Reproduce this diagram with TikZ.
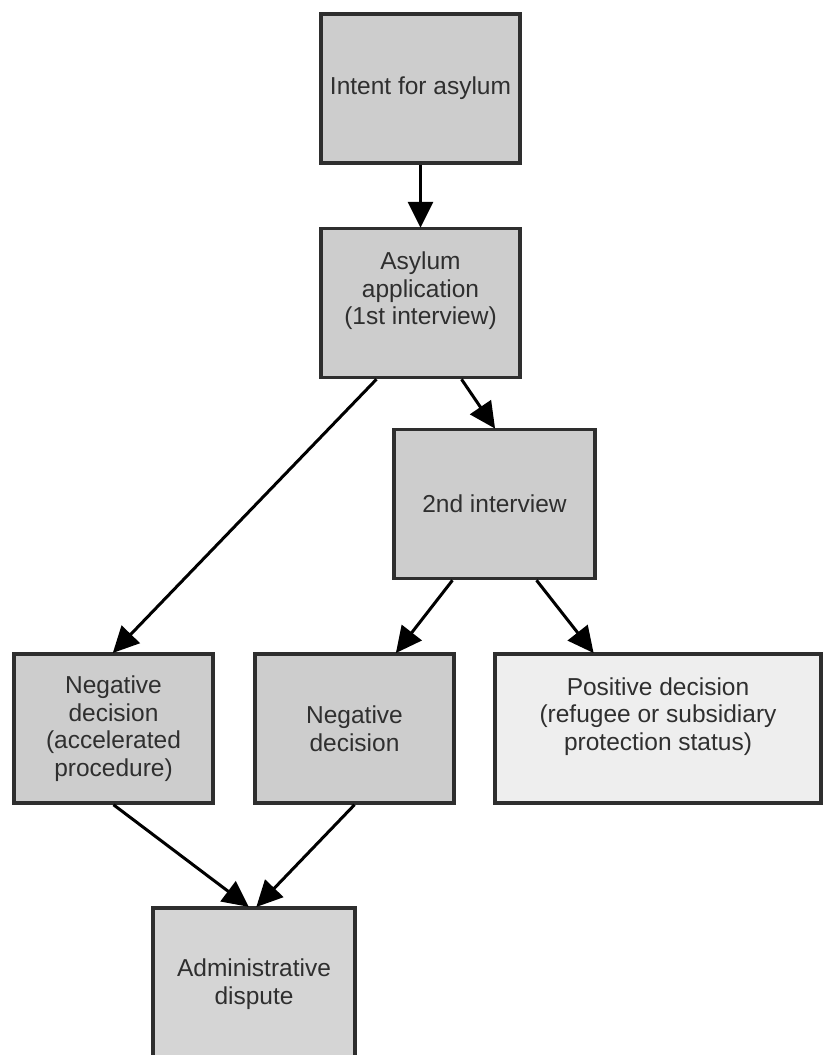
\documentclass[tikz,border=0pt]{standalone}
\usepackage{fontspec}
\setmainfont{Liberation Sans}
\usetikzlibrary{arrows.meta,calc}
\definecolor{boxfill}{HTML}{CDCDCD}
\definecolor{lightfill}{HTML}{EEEEEE}
\definecolor{disputefill}{HTML}{D5D5D5}
\definecolor{frame}{HTML}{2E2E2E}
\definecolor{textc}{HTML}{2F2F2F}
\tikzset{
  stepbox/.style={draw=frame, line width=3.5pt, fill=boxfill, align=center,
    text=textc, minimum width=199pt, minimum height=149pt, inner sep=0pt,
    font=\fontsize{24.5pt}{27.5pt}\selectfont},
  flow/.style={line width=3pt, draw=black,
    -{Triangle[length=26pt,width=25pt]}, shorten >=-1pt},
}
\begin{document}
\begin{tikzpicture}[x=1pt,y=-1pt]
  \clip (0,0) rectangle (826,1055);
  \fill[white] (0,0) rectangle (826,1055);

  % process steps
  \node[stepbox] (intent) at (420.5,88.5) {Intent for asylum};
  \node[stepbox, text depth=29pt] (asy) at (420.5,303) {Asylum\\application\\(1st interview)};
  \node[stepbox, minimum width=201pt] (int2) at (494.5,504) {2nd interview};
  \node[stepbox] (negacc) at (113.5,728.5) {Negative\\decision\\(accelerated\\procedure)};
  \node[stepbox] (neg) at (354.5,728.5) {Negative\\decision};
  \node[stepbox, fill=lightfill, minimum width=326pt, text depth=29pt] (pos) at (658,728.5)
    {Positive decision\\(refugee or subsidiary\\protection status)};
  \node[stepbox, fill=disputefill, minimum width=202pt, minimum height=152pt] (adm) at (254,984)
    {Administrative\\dispute};

  % transitions
  \draw[flow] (intent.south) -- (asy.north);
  \draw[flow] ($(asy.south)+(-44,0)$) -- (negacc.north);
  \draw[flow] ($(asy.south)+(41,0)$) -- (int2.north);
  \draw[flow] ($(int2.south)+(-42,0)$) -- ($(neg.north)+(42,0)$);
  \draw[flow] ($(int2.south)+(42,0)$) -- ($(pos.north)+(-65,0)$);
  \draw[flow] (negacc.south) -- ($(adm.north)+(-6,0)$);
  \draw[flow] (neg.south) -- ($(adm.north)+(3,0)$);
\end{tikzpicture}
\end{document}
